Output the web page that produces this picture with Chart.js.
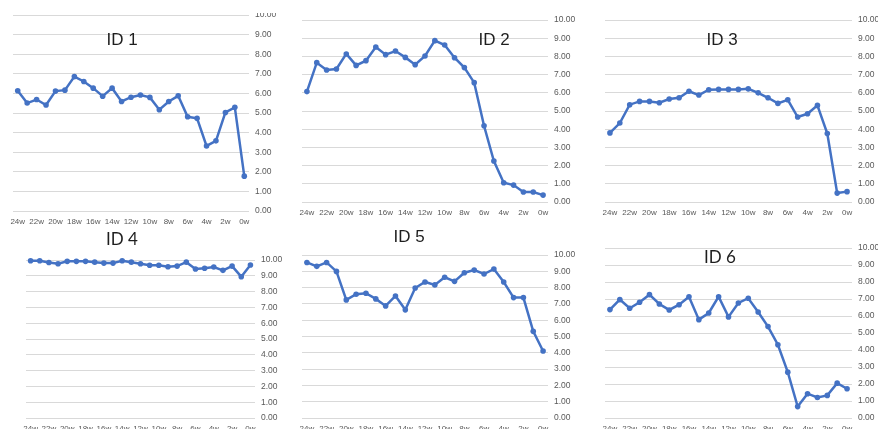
<!DOCTYPE html>
<html>
<head>
<meta charset="utf-8">
<script src="https://cdn.jsdelivr.net/npm/chart.js@4.4.1/dist/chart.umd.min.js"></script>
<style>
  html, body { margin: 0; padding: 0; background: #fff; width: 878px; height: 429px; overflow: hidden; position: relative; }
  .clip { position: absolute; overflow: hidden; }
  canvas { position: absolute; }
  .ttl { position: absolute; transform: translate(-50%, -50%); white-space: nowrap; color: #1e1e1e; font-size: 17px; line-height: 1; }
</style>
</head>
<body>
<script>
// ---- DATA ----
const weeks = ['24w','23w','22w','21w','20w','19w','18w','17w','16w','15w','14w','13w','12w','11w','10w','9w','8w','7w','6w','5w','4w','3w','2w','1w','0w'];
const yTicks = [0,1,2,3,4,5,6,7,8,9,10];
const titles = ['ID 1','ID 2','ID 3','ID 4','ID 5','ID 6'];
const id1 = [6.14,5.51,5.69,5.41,6.12,6.17,6.86,6.61,6.27,5.86,6.27,5.59,5.81,5.92,5.80,5.17,5.59,5.88,4.81,4.73,3.32,3.58,5.03,5.29,1.78];
const id2 = [6.07,7.66,7.26,7.31,8.14,7.51,7.77,8.52,8.10,8.30,7.95,7.55,8.03,8.87,8.63,7.93,7.39,6.56,4.19,2.25,1.06,0.93,0.55,0.55,0.38];
const id3 = [3.80,4.34,5.35,5.53,5.53,5.46,5.66,5.73,6.09,5.88,6.17,6.19,6.19,6.19,6.22,6.00,5.73,5.42,5.62,4.67,4.85,5.31,3.76,0.49,0.57];
const id4 = [9.96,9.96,9.85,9.77,9.92,9.92,9.92,9.87,9.81,9.81,9.96,9.87,9.77,9.67,9.67,9.58,9.62,9.87,9.44,9.48,9.56,9.35,9.62,8.95,9.69];
const id5 = [9.55,9.31,9.55,9.00,7.25,7.60,7.66,7.31,6.88,7.49,6.64,7.98,8.35,8.17,8.64,8.39,8.92,9.08,8.84,9.14,8.35,7.39,7.39,5.32,4.11];
const id6 = [6.38,6.97,6.46,6.81,7.26,6.71,6.36,6.67,7.14,5.79,6.18,7.14,5.95,6.77,7.05,6.24,5.38,4.31,2.70,0.67,1.43,1.21,1.33,2.05,1.72];
const series = [id1, id2, id3, id4, id5, id6];

// ---- LAYOUT (plot area edges, title centers) ----
const layout = [
  {L:13,  R:249, T:14,  B:211, tx:122, ty:39,  clipTop:13, xpad:6, font:'"Liberation Sans", Arial, sans-serif'},
  {L:302, R:548, T:19,  B:202, tx:494, ty:39,  clipTop:0,  xpad:6, font:'"Liberation Sans", Arial, sans-serif'},
  {L:605, R:852, T:19,  B:202, tx:722, ty:39,  clipTop:0,  xpad:6, font:'"Liberation Sans", Arial, sans-serif'},
  {L:26,  R:255, T:259, B:418, tx:122, ty:238, clipTop:0,  xpad:6, font:'Lato, "Open Sans", sans-serif'},
  {L:302, R:548, T:254, B:418, tx:409, ty:236, clipTop:0,  xpad:6, font:'"Liberation Sans", Arial, sans-serif'},
  {L:605, R:852, T:247, B:418, tx:720, ty:256, clipTop:0,  xpad:6, font:'Lato, "Open Sans", sans-serif'}
];

const PADL = 10, PADT = 10, YW = 40, XH = 24;
const BLUE = '#4472C4';
const tickFont = '"Liberation Sans", Arial, sans-serif';

layout.forEach((p, i) => {
  const clip = document.createElement('div');
  clip.className = 'clip';
  const cl = p.L - PADL, ct = p.T - PADT;
  const w = PADL + (p.R - p.L) + YW;
  const h = PADT + (p.B - p.T) + XH;
  const clipTop = Math.max(ct, p.clipTop);
  clip.style.left = cl + 'px';
  clip.style.top = clipTop + 'px';
  clip.style.width = w + 'px';
  clip.style.height = (h - (clipTop - ct)) + 'px';
  const cv = document.createElement('canvas');
  cv.width = w; cv.height = h;
  cv.style.width = w + 'px'; cv.style.height = h + 'px';
  cv.style.left = '0px';
  cv.style.top = (ct - clipTop) + 'px';
  clip.appendChild(cv);
  document.body.appendChild(clip);

  const t = document.createElement('div');
  t.className = 'ttl';
  t.textContent = titles[i];
  t.style.left = p.tx + 'px';
  t.style.top = p.ty + 'px';
  t.style.fontFamily = p.font;
  document.body.appendChild(t);

  new Chart(cv, {
    type: 'line',
    data: {
      labels: weeks,
      datasets: [{
        data: series[i],
        borderColor: BLUE,
        backgroundColor: BLUE,
        borderWidth: 2.5,
        pointRadius: 2.8,
        pointBackgroundColor: BLUE,
        pointBorderWidth: 0,
        tension: 0,
        clip: false
      }]
    },
    options: {
      responsive: false,
      animation: false,
      devicePixelRatio: 1,
      layout: { padding: { left: PADL, top: PADT, right: 0, bottom: 0 } },
      plugins: { legend: { display: false }, tooltip: { enabled: false }, title: { display: false } },
      scales: {
        x: {
          type: 'category',
          offset: true,
          grid: { display: false, drawTicks: false },
          border: { display: false },
          ticks: {
            autoSkip: false, maxRotation: 0, minRotation: 0,
            padding: p.xpad,
            color: '#595959',
            font: { family: tickFont, size: 8 },
            callback: function(v, idx) { return idx % 2 === 0 ? weeks[idx] : ''; }
          },
          afterFit: s => { s.height = XH; }
        },
        y: {
          position: 'right',
          min: yTicks[0], max: yTicks[yTicks.length - 1],
          afterBuildTicks: s => { s.ticks = yTicks.map(v => ({ value: v })); },
          grid: { color: '#d9d9d9', lineWidth: 1, drawTicks: false },
          border: { display: false },
          ticks: {
            padding: 6,
            color: '#595959',
            font: { family: tickFont, size: 8.5 },
            callback: v => Number(v).toFixed(2)
          },
          afterFit: s => { s.width = YW; }
        }
      }
    }
  });
});
</script>
</body>
</html>
